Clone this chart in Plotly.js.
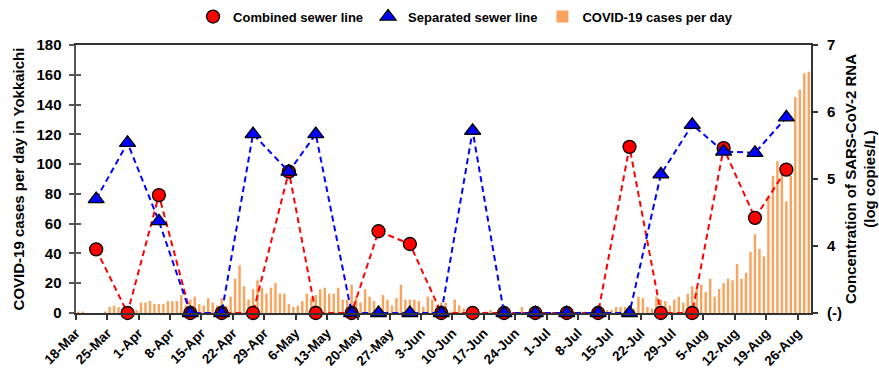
<!DOCTYPE html>
<html>
<head>
<meta charset="utf-8">
<script src="https://cdn.plot.ly/plotly-3.0.1.min.js"></script>
<style>html,body{margin:0;padding:0;background:#fff;}#chart{width:879px;height:371px;}</style>
</head>
<body>
<div id="chart"></div>
<script>
// ---- data ----
const caseStartDate = '2020-03-18';
// COVID-19 cases per day in Yokkaichi, one value per day from 18-Mar
const dailyCases = [
  1,1,0,0,0,0,1,4,5,4,1,0,0,2,
  7,7,8,6,6,6,8,8,8,12,5,9,11,6,
  5,10,7,5,10,5,11,23,32,18,9,16,22,17,
  13,17,20,13,13,6,4,5,8,13,10,12,16,17,
  13,13,17,9,9,19,11,7,16,11,8,5,12,9,
  5,10,19,9,9,9,8,4,11,9,5,7,7,1,
  9,5,3,1,0,1,0,1,2,0,0,0,0,0,
  0,4,0,0,0,0,0,0,0,0,0,0,0,0,
  1,1,0,0,0,1,2,2,4,4,4,3,3,11,
  10,4,3,11,9,8,5,9,11,7,13,18,17,19,
  14,23,11,16,20,23,22,33,23,27,41,53,43,38,
  78,92,102,99,75,92,145,150,161,162
];
// wastewater sampling dates
const sampleDates = ['2020-03-22','2020-03-29','2020-04-05','2020-04-12','2020-04-19','2020-04-26','2020-05-04','2020-05-10','2020-05-18','2020-05-24','2020-05-31','2020-06-07','2020-06-14','2020-06-21','2020-06-28','2020-07-05','2020-07-12','2020-07-19','2020-07-26','2020-08-02','2020-08-09','2020-08-16','2020-08-23'];
// log copies/L ; null = not detected, drawn at the "(-)" level
const combinedSewer = [3.95,null,4.76,null,null,null,5.11,null,null,4.22,4.03,null,null,null,null,null,null,5.48,null,null,5.46,4.42,5.14];
const separatedSewer = [4.70,5.54,4.37,null,null,5.67,5.11,5.67,null,null,null,null,5.72,null,null,null,null,null,5.07,5.81,5.41,5.39,5.92];
const notDetectedLevel = 3;
const tickDates = ['2020-03-18','2020-03-25','2020-04-01','2020-04-08','2020-04-15','2020-04-22','2020-04-29','2020-05-06','2020-05-13','2020-05-20','2020-05-27','2020-06-03','2020-06-10','2020-06-17','2020-06-24','2020-07-01','2020-07-08','2020-07-15','2020-07-22','2020-07-29','2020-08-05','2020-08-12','2020-08-19','2020-08-26'];
const tickLabels = ['18-Mar','25-Mar','1-Apr','8-Apr','15-Apr','22-Apr','29-Apr','6-May','13-May','20-May','27-May','3-Jun','10-Jun','17-Jun','24-Jun','1-Jul','8-Jul','15-Jul','22-Jul','29-Jul','5-Aug','12-Aug','19-Aug','26-Aug'];
const leftTicks = [0,20,40,60,80,100,120,140,160,180];
const rightTickVals = [3,4,5,6,7];
const rightTickText = ['(-)','4','5','6','7'];

// ---- build ----
const DAY = 86400000;
const t0 = Date.parse(caseStartDate + 'T00:00:00Z');
const caseDates = dailyCases.map((_, i) => new Date(t0 + i * DAY).toISOString().slice(0, 10));
const toLevel = arr => arr.map(v => v === null ? notDetectedLevel : v);

const FONT = 'Liberation Sans, Arial, sans-serif';
const bold = (size, color) => ({family: FONT, size: size, color: color || '#000', weight: 700});

function sewerTraces(name, values, color, symbol, size, rank) {
  const common = {type: 'scatter', x: sampleDates, y: toLevel(values), xperiod: DAY,
                  xperiodalignment: 'middle', yaxis: 'y2', cliponaxis: false, name: name, hoverinfo: 'skip'};
  return [
    Object.assign({}, common, {mode: 'lines', showlegend: false,
      line: {color: color, width: 2, dash: '6px,4px'}}),
    Object.assign({}, common, {mode: 'markers', legendrank: rank,
      marker: {symbol: symbol, size: size, color: color, line: {color: '#000', width: 1.3}}})
  ];
}

const traces = [
  {
    type: 'bar', name: 'COVID-19 cases per day',
    x: caseDates, y: dailyCases, xperiod: DAY, xperiodalignment: 'middle',
    marker: {color: '#F8A45F', line: {width: 0}},
    yaxis: 'y', legendrank: 3, hoverinfo: 'skip'
  },
  ...sewerTraces('Combined sewer line', combinedSewer, '#FF0000', 'circle', 13, 1),
  ...sewerTraces('Separated sewer line', separatedSewer, '#0000FF', 'triangle-up', 14, 2),
  {type: 'scatter', x: [], y: [], yaxis: 'y3', showlegend: false, hoverinfo: 'skip'}
];

const layout = {
  width: 879, height: 371,
  margin: {l: 76, r: 68, t: 45, b: 58, autoexpand: false},
  paper_bgcolor: '#fff', plot_bgcolor: '#fff',
  showlegend: true,
  bargap: 0.45,
  legend: {orientation: 'h', x: 0.53, xanchor: 'center', y: 1.05, yanchor: 'bottom',
           font: bold(13), traceorder: 'normal', itemwidth: 30, tracegroupgap: 0},
  xaxis: {
    type: 'date', range: ['2020-03-18', '2020-08-29'],
    tickmode: 'array', tickvals: tickDates, ticktext: tickLabels,
    tickangle: -45, tickfont: bold(13.5),
    ticks: 'outside', ticklen: 5, tickwidth: 2, tickcolor: '#333',
    showline: true, linecolor: '#333', linewidth: 2, mirror: true,
    showgrid: false, zeroline: false
  },
  yaxis: {
    range: [0, 180], tickmode: 'array', tickvals: leftTicks,
    tickfont: bold(15), ticks: 'outside', ticklen: 5, tickwidth: 2, tickcolor: '#555',
    ticklabelstandoff: 4,
    showline: true, linecolor: '#555', linewidth: 2.5,
    showgrid: false, zeroline: false,
    title: {text: 'COVID-19 cases per day in Yokkaichi', font: bold(15), standoff: 8}
  },
  yaxis3: {
    overlaying: 'y', side: 'left', anchor: 'x',
    range: [0, 180], tickmode: 'array', tickvals: leftTicks,
    ticks: 'inside', ticklen: 5, tickwidth: 2, tickcolor: '#555',
    showticklabels: false, showline: false, showgrid: false, zeroline: false
  },
  yaxis2: {
    overlaying: 'y', side: 'right', anchor: 'x',
    range: [3, 7], tickmode: 'array', tickvals: rightTickVals, ticktext: rightTickText,
    tickfont: bold(15), ticks: 'outside', ticklen: 5, tickwidth: 2, tickcolor: '#333',
    ticklabelstandoff: 6,
    showline: true, linecolor: '#333', linewidth: 2,
    showgrid: false, zeroline: false,
    title: {text: 'Concentration of SARS-CoV-2 RNA<br>(log copies/L)', font: bold(15), standoff: 4}
  }
};

Plotly.newPlot('chart', traces, layout, {displayModeBar: false, staticPlot: true});
</script>
</body>
</html>
